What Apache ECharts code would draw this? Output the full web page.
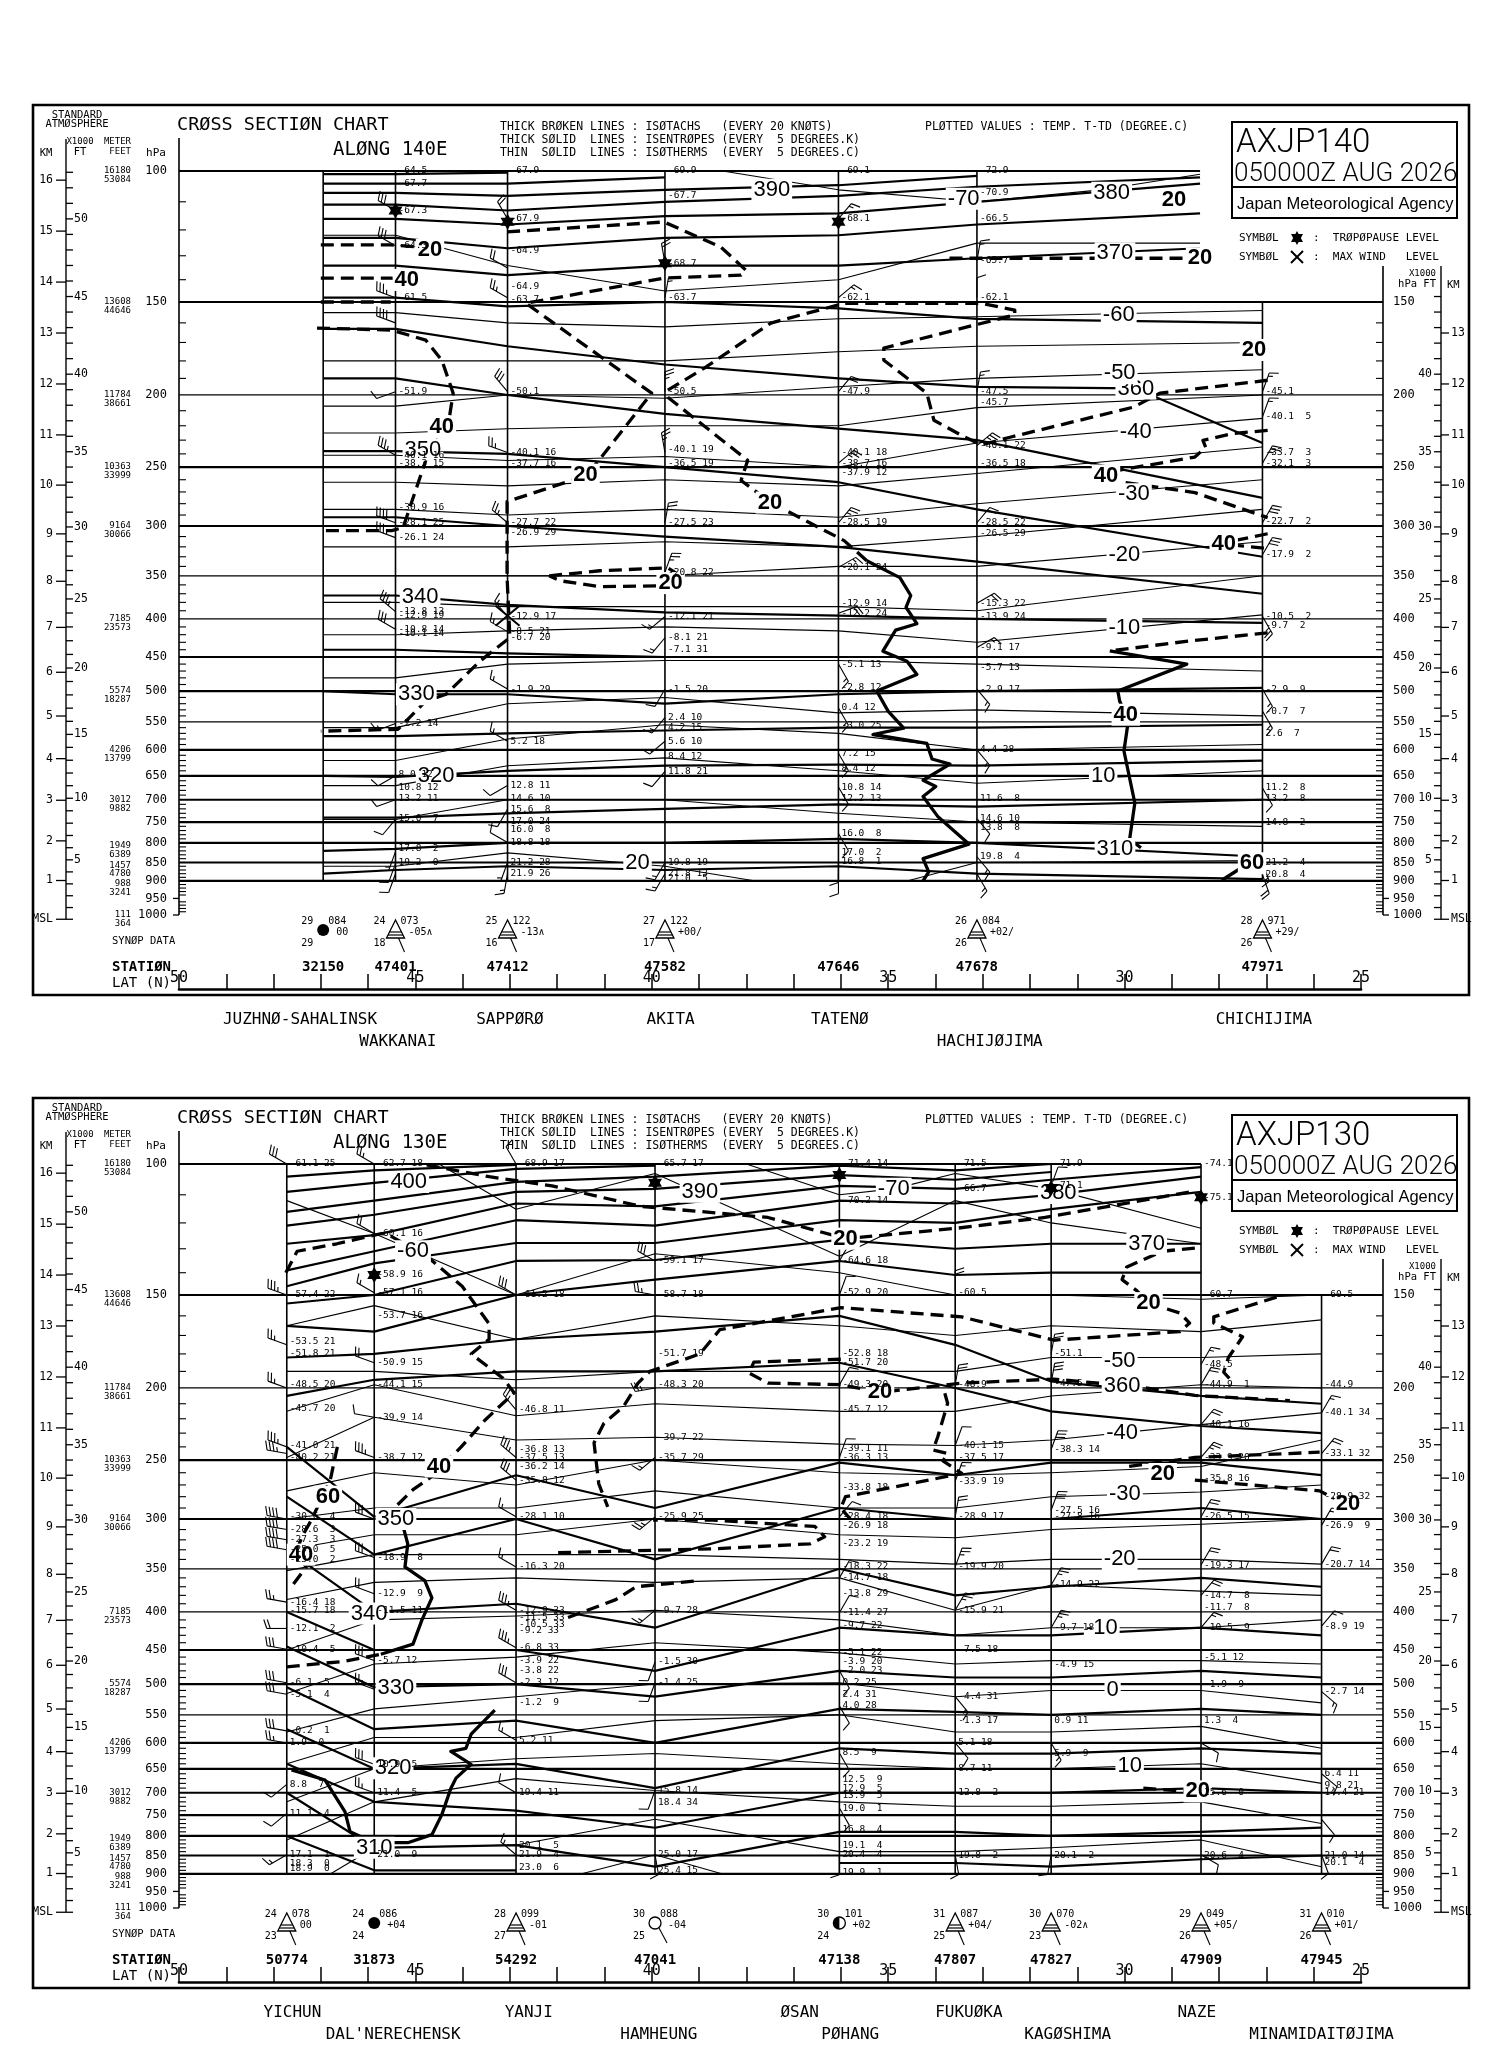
<!DOCTYPE html>
<html lang="en">
<head>
<meta charset="UTF-8">
<title>Cross Section Chart AXJP140 / AXJP130</title>
<script src="https://cdn.jsdelivr.net/npm/echarts@6/dist/echarts.min.js"></script>
<style>html,body{margin:0;padding:0;background:#fff}</style>
</head>
<body>
<div id="main" style="width:1512px;height:2059px;"></div>
<script>
var MONO = '"DejaVu Sans Mono", "Liberation Mono", monospace';
var SANS = '"Liberation Sans", Arial, sans-serif';

// pressure levels and standard atmosphere table
var levels = [100,150,200,250,300,350,400,450,500,550,600,650,700,750,800,850,900,950,1000];
var thickLevels = [100,150,250,300,450,500,600,650,700,750,800,850,900];
var stdLevels = [100,150,200,250,300,400,500,600,700,800,850,900,1000];
var stdMeter = ['16180','13608','11784','10363','9164','7185','5574','4206','3012','1949','1457','988','111'];
var stdFeet = ['53084','44646','38661','33999','30066','23573','18287','13799','9882','6389','4780','3241','364'];

// ---------- 140E section ----------
var lat140 = [46.95, 45.42, 43.05, 39.72, 36.05, 33.12, 27.08];
var id140 = ['32150','47401','47412','47582','47646','47678','47971'];
var top140 = [100,100,100,100,100,100,150];
var name140 = ['JUZHNØ-SAHALINSK','WAKKANAI','SAPPØRØ','AKITA','TATENØ','HACHIJØJIMA','CHICHIJIMA'];
var nameLat140 = [47.44, 45.37, 43.0, 39.6, 36.02, 32.85, 27.05];
var nameRow140 = [0,1,0,0,0,1,0];
var synop140 = [[0,'29','084','00','29','full'],[1,'24','073','-05∧','18','tri'],[2,'25','122','-13∧','16','tri'],
  [3,'27','122','+00/','17','tri'],[5,'26','084','+02/','26','tri'],[6,'28','971','+29/','26','tri']];

// isentropes (pressure at each station, S0..S6; last value < 150 sits at the upper end)
var isen140 = [
  [101,101,100.5],
  [104,104,104,102],
  [107,107,108,106,104.5,101.5],
  [111,111,113,110,108,105,102],
  [116,116,118,115,114,110,104],
  [123,123,127,123,122,118,114],
  [134,134,138,134,134,131,127],
  [148,148,152,150,153,158,160],
  [[46.95,163],[45.42,163],[43.05,172],[39.72,182],[36.05,190],[33.12,195],[29.76,196],[27.08,232]],
  [190,190,200,212,222,230,275],
  [238,238,240,250,262,285,330],
  [292,292,300,310,320,335,370],
  [372,372,383,392,396,400,405],
  [440,440,445,450,450,450,450],
  [500,505,505,520,505,500,495],
  [575,575,570,565,560,560,555],
  [650,652,640,630,628,630,620],
  [740,740,730,720,710,715,700],
  [820,815,800,800,790,800,835],
  [880,870,860,870,860,880,895]
];
// isotherms
var isot140 = [
  [[38.5,100],[36.05,106],[33.12,110],[30.5,106],[28.4,101]],
  [[46.95,122],[45.42,122],[43.05,134],[39.72,145],[36.05,140],[33.12,125],[28.4,125]],
  [155,155,160,162,158,157,154],
  [180,180,180,180,175,172,170],
  [207,207,200,202,195,190,185],
  [225,225,222,220,220,208,200],
  [241,241,245,242,250,232,215],
  [262,262,265,260,265,255,235],
  [285,285,290,285,292,280,260],
  [320,320,320,315,320,310,285],
  [350,350,350,350,340,340,315],
  [380,380,385,385,385,390,350],
  [420,420,415,410,415,430,395],
  [480,480,460,455,455,460,470],
  [560,560,520,510,535,530,540],
  [620,620,580,555,570,600,590],
  [670,670,630,615,640,665,640],
  [744,744,700,700,730,750,760],
  [[46.95,860],[45.42,860],[43.05,825],[39.72,860],[37.8,900]],
  [[34.6,900],[33.12,850],[27.08,845]]
];
// isotachs
var tach140 = [
  [[43.06,120.7],[41.5,119],[39.74,117.1],[38.54,126.5],[38.01,135.9],[38.11,138],[39.74,139.3],[42.66,150.6],[40.0,198.9],[41.37,256.5],[43.06,278.2],[43.06,351.7],[43.0,423.8],[43.63,455.6],[44.35,505],[44.78,515.9],[45.37,562.8],[47.0,566.2]],
  [[26.97,191.1],[29.25,198.9],[29.8,207.6],[32.4,227.8],[33.02,233.4],[33.38,227.8],[34.03,216.3],[34.18,198.9],[35.09,179.6],[35.09,173],[32.32,156.1],[32.32,153.8],[33.02,150.6],[35.93,150.6],[37.48,160.1],[38.85,183.4],[39.66,197.1],[39.66,201.4],[37.97,244.9],[38.11,260.6],[37.48,279],[35.93,313.9],[35.45,334]],
  [[47.0,125.7],[45.52,125.7],[44.95,126.5]],
  [[47.0,139.3],[45.52,139.3],[45.3,139.8]],
  [[47.0,150],[45.52,150]],
  [[47.08,162.6],[45.5,163.6],[44.78,168.8],[44.44,179.6],[44.2,198.9],[44.29,216.3],[44.78,244.9],[45.01,270.5],[45.26,301.5],[45.5,304.3],[47.0,304.3]],
  [[42.17,350],[41.1,344.6],[39.66,341.5],[39.4,350],[39.83,361],[41.1,362],[41.94,355.4],[42.17,350]],
  [[33.7,131],[28.4,131]],
  [[26.97,223.2],[27.71,225.3],[28.34,230.2],[28.28,235.2],[28.51,242.4],[30.14,252.6],[30.39,256.6],[30.14,261.4],[28.51,270.6],[26.97,292.3]],
  [[26.97,307.3],[27.98,316.9],[26.97,321.7]],
  [[26.97,417.6],[28.62,428.2],[30.31,441.7]]
];
var thick140 = [
  [[30.31,441.7],[28.68,460],[30.14,500],[30.1,516],[29.97,538],[29.93,555],[30.01,602],[29.78,707],[29.89,791],[29.65,812]],
  [[35.45,334],[34.75,352],[34.52,372],[34.62,386],[34.39,406],[34.84,414],[35.11,442],[34.6,456],[34.39,475],[35.24,500],[35.0,532],[34.67,561],[35.32,572],[34.18,588],[34.07,617],[33.69,627],[34.26,659],[33.99,672],[34.26,693],[33.95,737],[33.29,803],[34.26,840],[34.14,875],[34.26,900]],
  [[27.94,898],[27.45,858]]
];
var labIsen140 = [[37.46,106,'390'],[30.27,107,'380'],[30.2,129,'370'],[29.76,196,'360'],[44.84,237,'350'],[44.9,374,'340'],[44.98,505,'330'],[44.56,651,'320'],[30.2,815,'310']];
var labIsot140 = [[33.4,109,'-70'],[30.12,156,'-60'],[30.1,187,'-50'],[29.76,224,'-40'],[29.8,272,'-30'],[30.0,328,'-20'],[30.0,411,'-10'],[30.45,650,'10'],[40.3,850,'20']];
var labTach140 = [[44.69,127.7,'20'],[45.18,140.1,'40'],[44.44,220.8,'40'],[41.4,256,'20'],[37.5,279,'20'],[39.6,358,'20'],[28.95,109.4,'20'],[28.4,131,'20'],[27.26,174,'20'],[30.39,256.6,'40'],[27.9,317,'40'],[29.97,538,'40'],[27.3,852,'60']];
var tropo140 = [[45.42,113],[43.05,117],[39.72,133],[36.05,117]];
var maxw140 = [[43.05,396]];
// plotted values: temperature, T-Td
var vals140 = [
  [],
  [[100,'-64.5'],[104,'-67.7'],[113,'-67.3'],[126,'-64.3'],[148,'-61.5'],[198,'-51.9'],[241,'-40.1 16'],[247,'-38.3 15'],[283,'-30.9 16'],[297,'-28.1 25'],[311,'-26.1 24'],[391,'-13.8 13'],[396,'-12.9 19'],[413,'-10.8 14'],[418,'-10.1 14'],[553,'-2.2 14'],[648,'8.0 12'],[673,'10.8 12'],[697,'13.2 11'],[742,'15.0  7'],[813,'17.8  2'],[850,'19.2  0']],
  [[100,'-67.9'],[116,'-67.9'],[128,'-64.9'],[143,'-64.9'],[149,'-63.7'],[198,'-50.1'],[239,'-40.1 16'],[247,'-37.7 16'],[297,'-27.7 22'],[306,'-26.9 29'],[397,'-12.9 17'],[416,'-8.5 21'],[424,'-6.7 20'],[497,'-1.9 29'],[584,'5.2 18'],[670,'12.8 11'],[697,'14.6 10'],[721,'15.6  8'],[749,'17.0 24'],[767,'16.0  8'],[799,'18.8 18'],[850,'21.2 28'],[880,'21.9 26']],
  [[100,'-69.9'],[108,'-67.7'],[133,'-68.7'],[148,'-63.7'],[198,'-50.5'],[237,'-40.1 19'],[247,'-36.5 19'],[297,'-27.5 23'],[346,'-20.8 22'],[397,'-12.1 21'],[424,'-8.1 21'],[440,'-7.1 31'],[497,'-1.5 20'],[543,'2.4 10'],[560,'4.2 15'],[584,'5.6 10'],[612,'8.4 12'],[641,'11.8 21'],[850,'19.8 19'],[880,'21.8 13'],[893,'21.0  5']],
  [[100,'-69.1'],[116,'-68.1'],[148,'-62.1'],[198,'-47.9'],[239,'-40.1 18'],[247,'-38.7 16'],[254,'-37.9 12'],[297,'-28.5 19'],[341,'-20.1 24'],[381,'-12.9 14'],[393,'-12.2 24'],[460,'-5.1 13'],[495,'-2.8 12'],[527,'0.4 12'],[556,'-3.0 25'],[606,'7.2 15'],[635,'8.4 12'],[673,'10.8 14'],[697,'12.2 13'],[777,'16.0  8'],[823,'17.0  2'],[848,'16.8  1']],
  [[100,'-72.9'],[107,'-70.9'],[116,'-66.5'],[132,'-65.7'],[148,'-62.1'],[198,'-47.5'],[205,'-45.7'],[234,'-40.1 22'],[247,'-36.5 18'],[297,'-28.5 22'],[307,'-26.5 29'],[381,'-15.3 22'],[397,'-13.9 24'],[437,'-9.1 17'],[465,'-5.7 13'],[497,'-2.9 17'],[600,'4.4 28'],[697,'11.6  8'],[742,'14.6 10'],[764,'13.8  8'],[835,'19.8  4']],
  [[198,'-45.1'],[214,'-40.1  5'],[239,'-33.7  3'],[247,'-32.1  3'],[296,'-22.7  2'],[328,'-17.9  2'],[397,'-10.5  2'],[408,'-9.7  2'],[497,'-2.9  9'],[532,'-0.7  7'],[570,'2.6  7'],[675,'11.2  8'],[697,'13.2  8'],[752,'14.8  2'],[850,'21.2  4'],[883,'20.8  4']]
];
// winds: pressure, direction, knots
var barbs140 = [
  [],
  [[113,300,30],[126,300,30],[148,290,35],[160,290,40],[198,250,10],[241,300,35],[297,290,40],[311,290,35],[391,310,35],[413,300,30],[553,250,15],[650,240,10],[700,250,10],[744,220,10],[822,200,15],[853,200,10],[880,200,10]],
  [[116,330,20],[135,300,20],[148,300,25],[198,320,30],[239,290,25],[297,310,25],[397,320,15],[416,300,15],[497,300,15],[584,300,15],[670,240,10],[721,210,10],[799,300,10],[850,200,15],[880,190,15]],
  [[133,350,20],[148,10,15],[198,0,25],[239,350,25],[297,10,25],[346,20,25],[397,230,15],[424,220,15],[497,210,15],[543,220,15],[584,230,15],[641,220,10],[850,210,15],[880,210,15]],
  [[116,40,15],[148,50,15],[198,40,20],[247,50,25],[297,40,25],[341,60,15],[393,70,20],[460,150,15],[527,150,15],[606,150,15],[673,150,10],[777,150,10],[850,180,10],[880,180,10]],
  [[132,10,15],[148,0,10],[198,10,15],[234,50,25],[297,40,20],[381,60,20],[437,60,15],[497,140,15],[600,140,15],[742,140,10],[835,140,15],[880,150,15]],
  [[198,20,15],[214,20,15],[247,30,25],[297,30,30],[328,30,30],[397,150,25],[497,150,15],[532,150,15],[675,150,10],[850,160,15],[883,160,20]]
];

// ---------- 130E section ----------
var lat130 = [47.72, 45.87, 42.87, 39.93, 36.03, 33.58, 31.55, 28.38, 25.83];
var id130 = ['50774','31873','54292','47041','47138','47807','47827','47909','47945'];
var top130 = [100,100,100,100,100,100,100,100,150];
var name130 = ['YICHUN',"DAL'NERECHENSK",'YANJI','HAMHEUNG','ØSAN','PØHANG','FUKUØKA','KAGØSHIMA','NAZE','MINAMIDAITØJIMA'];
var nameLat130 = [47.6, 45.47, 42.6, 39.85, 36.87, 35.8, 33.29, 31.2, 28.47, 25.83];
var nameRow130 = [0,1,0,1,0,1,0,1,0,1];
var synop130 = [[0,'24','078','00','23','tri'],[1,'24','086','+04','24','full'],[2,'28','099','-01','27','tri'],
  [3,'30','088','-04','25','open'],[4,'30','101','+02','24','half'],[5,'31','087','+04/','25','tri'],
  [6,'30','070','-02∧','23','tri'],[7,'29','049','+05/','26','tri'],[8,'31','010','+01/','26','tri']];

var isen130 = [
  [104,102,100.3],
  [109,106,101.5,100.5],
  [116,112,105.7,104,100.5,102,100],
  [121,117,109,108,103.5,105,102.5],
  [128,124.6,113,114,107,108,105,101],
  [139,131,119,121,112,113,110,104],
  [146,136,127.7,127.7,119,120,115,109],
  [154,150,135,134.6,126.5,130,128,128],
  [165,168,150,143,135,141,140,140],
  [182,180,172,168,160,175,196,205,210],
  [205,195,190,190,185,200,215,225,230],
  [240,298,262,290,252,262,252,252,262],
  [280,335,300,340,290,300,300,290,300],
  [330,400,390,420,350,380,370,360,370],
  [400,450,450,480,420,430,430,420,430],
  [445,505,500,520,480,490,490,480,490],
  [505,575,560,600,540,545,550,540,550],
  [575,650,640,690,610,620,620,610,620],
  [640,720,740,780,700,700,700,690,700],
  [700,830,823,880,790,790,800,790,780],
  [800,890,890],
  [[36.03,870],[33.58,870],[31.55,880],[28.38,860],[25.83,850]]
];
var isot130 = [
  [[38,100],[36.03,110],[34.88,108],[33.58,103],[31.55,108],[28.38,122]],
  [[44.5,100],[42.87,115],[39.93,103],[36.03,133],[33.58,112],[31.55,120],[28.38,128]],
  [112,124,150,132,140,150,150,152,150],
  [165,155,172,160,165,170,165,168,162],
  [190,190,195,190,190,190,182,182,180],
  [215,198,218,210,215,215,205,198,200],
  [248,219,235,233,238,239,235,224,216],
  [275,260,270,250,260,262,260,255,235],
  [300,290,290,275,290,290,280,276,270],
  [330,315,315,300,315,318,310,305,300],
  [352,335,335,335,340,345,340,340,345],
  [385,365,360,365,360,398,368,375,380],
  [450,410,405,398,410,430,420,420,410],
  [515,470,460,440,454,470,465,465,470],
  [580,540,520,500,498,520,510,510,530],
  [640,590,590,560,550,580,580,570,610],
  [720,650,630,620,640,650,650,640,680],
  [810,720,670,695,720,730,730,720,770],
  [[46.8,900],[45.87,830],[42.87,823],[39.93,760],[36.03,840],[33.58,840],[31.55,830],[28.38,810],[25.83,880]],
  [[41.5,900],[39.93,848],[38.5,900]]
];
var tach130 = [
  [[47.74,140],[47.5,131],[46.66,128],[45.71,124],[45.52,125],[44.76,133],[44.01,146],[43.44,164],[43.44,172],[43.82,180],[43.15,194],[42.91,203],[43.53,221],[44.03,240],[44.65,263],[45.05,274],[45.47,291]],
  [[44.76,100.3],[43.44,104],[42.11,107],[40.23,114],[37.54,118],[35.9,126],[33.55,122],[31.68,118],[28.6,109]],
  [[28.51,129.7],[29.2,131],[29.95,137.5],[30.05,143],[29.74,148],[29.49,153.8],[28.83,158.6],[28.62,163.6],[28.83,168],[31.49,172.5],[33.44,160.5],[36.0,156],[38.56,167],[38.98,180],[40.04,190],[40.29,197],[40.6,212],[41.01,223],[41.22,237],[41.12,269],[40.93,289]],
  [[36.0,183],[37.84,184.6],[37.94,191],[37.54,197],[36.0,198],[35.17,202.7],[33.44,197],[31.49,194.6],[29.63,199.5],[28.51,204.7],[26.5,208]],
  [[33.8,203.3],[33.74,209.7],[33.95,232.8],[34.05,242.4],[33.74,244.9],[33.84,250.6],[33.44,260.6],[35.9,280],[36.0,290],[35.8,300]],
  [[26.78,151],[28.11,160.5],[28.11,163.6],[27.5,170.7],[27.8,182],[27.9,190.5],[27.69,197]],
  [[41.98,333],[38.7,329],[36.65,324],[36.34,317],[36.55,307],[38.7,301],[39.97,301]],
  [[46.65,240],[46.8,266],[47.0,283],[47.2,301],[47.4,317],[47.52,333],[47.31,348],[47.62,370]],
  [[47.72,474],[46.49,466],[45.73,456]],
  [[41.77,407],[40.76,385],[40.33,370],[39.0,363]],
  [[29.9,255],[28.51,248],[25.87,244]],
  [[28.51,266],[25.87,275],[25.4,285]],
  [[29.6,690],[28.7,697]]
];
var thick130 = [
  [[43.32,542],[43.82,584],[43.93,610],[44.25,616],[43.82,641],[44.14,669],[44.25,691],[44.44,749],[44.65,797],[45.16,817],[46.09,817]],
  [[45.26,307],[45.16,324],[45.22,348],[44.8,363],[44.65,383],[44.86,410],[45.05,442],[45.73,456]],
  [[47.62,652],[46.91,673],[46.49,742],[46.38,790],[45.87,817]]
];
var labIsen130 = [[45.14,105.7,'400'],[38.98,109,'390'],[31.4,109.4,'380'],[29.53,128,'370'],[30.05,199,'360'],[45.41,300,'350'],[45.98,402,'340'],[45.41,506,'330'],[45.47,649,'320'],[45.87,830,'310']];
var labIsot130 = [[34.88,108,'-70'],[45.05,131,'-60'],[30.1,184,'-50'],[30.05,230,'-40'],[29.99,278,'-30'],[30.1,340,'-20'],[30.48,420,'-10'],[30.25,510,'0'],[29.89,645,'10']];
var labTach130 = [[35.9,126,'20'],[29.49,153.8,'20'],[35.17,202.7,'20'],[44.5,255,'40'],[46.85,280,'60'],[47.42,335,'40'],[29.19,261,'20'],[25.27,286,'20'],[28.45,697,'20']];
var tropo130 = [[45.87,141],[39.93,106],[36.03,103.5],[31.55,107.7],[28.38,110.8]];
var maxw130 = [];
var vals130 = [
  [[100,'-61.1 25'],[150,'-57.4 22'],[173,'-53.5 21'],[180,'-51.8 21'],[198,'-48.5 20'],[213,'-45.7 20'],[239,'-41.0 21'],[248,'-40.2 21'],[298,'-30.6  4'],[310,'-28.6  3'],[320,'-27.3  3'],[330,'-25.0  5'],[340,'-23.0  2'],[388,'-16.4 18'],[398,'-15.7 18'],[421,'-12.1  2'],[449,'-10.4  5'],[498,'-6.1  5'],[516,'-5.1  4'],[578,'-0.2  1'],[600,'1.9  0'],[682,'8.8  7'],[746,'11.1  4'],[848,'17.1  1'],[871,'18.3  0'],[885,'18.9  0']],
  [[100,'-62.7 18'],[124,'-60.1 16'],[141,'-58.9 16'],[149,'-57.1 16'],[160,'-53.7 16'],[185,'-50.9 15'],[198,'-44.1 15'],[219,'-39.9 14'],[248,'-38.7 12'],[338,'-18.9  8'],[378,'-12.9  9'],[398,'-11.5 11'],[465,'-5.7 12'],[641,'10.9  5'],[700,'11.4  5'],[848,'21.0  9']],
  [[100,'-68.9 17'],[150,'-61.2 18'],[214,'-46.8 11'],[242,'-36.8 13'],[248,'-37.5 13'],[255,'-36.2 14'],[266,'-35.8 12'],[298,'-28.1 10'],[348,'-16.3 20'],[398,'-12.9 33'],[407,'-11.5 33'],[416,'-10.5 33'],[424,'-9.2 33'],[447,'-6.8 33'],[465,'-3.9 22'],[480,'-3.8 22'],[498,'-2.3 12'],[530,'-1.2  9'],[595,'5.2 11'],[700,'19.4 11'],[823,'20.1  5'],[848,'21.9  4'],[883,'23.0  6']],
  [[100,'-65.7 17'],[135,'-59.1 17'],[150,'-58.7 18'],[180,'-51.7 19'],[198,'-48.3 20'],[233,'-39.7 22'],[248,'-35.7 29'],[298,'-25.9 25'],[398,'-9.7 28'],[467,'-1.5 30'],[498,'-1.4 25'],[695,'15.8 14'],[722,'18.4 34'],[848,'25.0 17'],[890,'25.4 15']],
  [[100,'-71.4 14'],[112,'-70.2 14'],[135,'-64.6 18'],[149,'-52.9 20'],[180,'-52.8 18'],[185,'-51.7 20'],[198,'-49.3 20'],[214,'-45.7 12'],[241,'-39.1 11'],[248,'-36.3 13'],[272,'-33.8 18'],[298,'-28.4 18'],[306,'-26.9 18'],[324,'-23.2 19'],[348,'-18.3 22'],[360,'-14.7 18'],[378,'-13.8 29'],[401,'-11.4 27'],[417,'-9.7 22'],[454,'-5.1 22'],[467,'-3.9 20'],[480,'-2.0 23'],[498,'0.2 25'],[516,'2.4 31'],[535,'4.0 28'],[619,'8.5  9'],[671,'12.5  9'],[690,'12.9  5'],[705,'13.9  5'],[734,'19.0  1'],[784,'16.8  4'],[823,'19.1  4'],[848,'20.4  4'],[895,'19.9  1']],
  [[100,'-71.5'],[108,'-66.7'],[149,'-60.5'],[198,'-48.9'],[239,'-40.1 15'],[248,'-37.5 17'],[267,'-33.9 19'],[298,'-28.9 17'],[348,'-19.9 20'],[398,'-15.9 21'],[450,'-7.5 18'],[520,'-4.4 31'],[560,'-1.3 17'],[600,'5.1 18'],[650,'8.7 11'],[700,'12.8  2'],[850,'19.8  2']],
  [[100,'-71.9'],[107,'-71.1'],[180,'-51.1'],[197,'-47.5'],[242,'-38.3 14'],[292,'-27.5 16'],[298,'-27.8 16'],[368,'-14.9 22'],[420,'-9.7 18'],[470,'-4.9 15'],[560,'0.9 11'],[620,'5.9  9'],[850,'20.1  2']],
  [[100,'-74.1'],[111,'-75.1'],[150,'-60.7'],[186,'-48.5'],[198,'-44.9  1'],[224,'-40.1 16'],[248,'-33.9 20'],[265,'-35.8 16'],[298,'-26.5 15'],[346,'-19.3 17'],[380,'-14.7  8'],[395,'-11.7  8'],[420,'-10.5  9'],[460,'-5.1 12'],[500,'-1.9  9'],[560,'1.3  4'],[700,'15.6  0'],[850,'20.6  4']],
  [[150,'-60.5'],[198,'-44.9'],[216,'-40.1 34'],[245,'-33.1 32'],[280,'-28.9 32'],[306,'-26.9  9'],[345,'-20.7 14'],[418,'-8.9 19'],[512,'-2.7 14'],[660,'6.4 11'],[685,'9.8 21'],[700,'14.4 21'],[850,'21.0 14'],[870,'20.1  4']]
];
var barbs130 = [
  [[100,300,30],[150,290,35],[175,290,25],[200,290,25],[240,290,35],[245,280,35],[300,280,40],[310,280,40],[320,280,40],[330,280,40],[388,280,25],[421,270,20],[449,280,30],[498,280,30],[516,280,30],[578,280,30],[600,280,25],[682,230,10],[746,230,10],[848,240,15]],
  [[100,300,25],[124,300,20],[149,300,15],[185,290,20],[219,280,10],[248,290,35],[300,290,30],[338,290,30],[378,290,20],[465,290,30],[508,290,25],[641,290,30],[700,290,25],[848,290,25]],
  [[100,330,10],[150,300,30],[214,320,25],[248,310,35],[266,310,30],[298,300,15],[348,300,15],[398,300,35],[447,300,35],[498,300,30],[595,300,15],[700,300,10],[848,310,15]],
  [[135,300,30],[150,280,25],[200,260,25],[248,230,15],[298,230,25],[398,230,15],[467,200,10],[498,200,10],[695,200,10],[848,170,10]],
  [[135,30,10],[150,20,10],[198,30,10],[248,20,10],[298,40,10],[360,30,10],[401,30,10],[480,150,10],[535,150,10],[619,150,10],[734,150,10],[848,180,10]],
  [[148,0,20],[198,10,20],[239,20,10],[267,20,15],[298,10,20],[348,20,25],[398,30,25],[520,140,15],[600,140,10],[848,170,10]],
  [[107,20,10],[180,10,25],[197,10,30],[242,20,30],[292,20,30],[368,30,25],[420,30,25],[600,150,15],[848,190,10]],
  [[186,30,15],[198,30,20],[224,40,20],[248,40,25],[298,30,20],[346,30,20],[380,40,20],[420,40,15],[600,120,10],[848,120,10]],
  [[216,30,15],[245,40,20],[306,30,20],[345,30,20],[418,40,15],[512,130,15],[660,130,10],[760,140,10],[848,160,10]]
];

// ---------- helpers ----------
function stdP(h) {
  return h <= 11000 ? 1013.25 * Math.pow(1 - 2.25577e-5 * h, 5.25588) : 226.32 * Math.exp(-(h - 11000) / 6341.62);
}
function L(x1, y1, x2, y2, w) {
  return {type: 'line', shape: {x1: x1, y1: y1, x2: x2, y2: y2}, style: {stroke: '#000', lineWidth: w || 1}};
}
function T(s, x, y, font, align, bg) {
  var st = {text: s, x: x, y: y, font: font, fill: '#000', align: align || 'left', verticalAlign: 'middle',
    textAlign: align || 'left', textVerticalAlign: 'middle'};
  if (bg) { st.backgroundColor = '#fff'; st.padding = [0, 2]; }
  return {type: 'text', style: st};
}
function toPts(line, lats, upEnd) {
  if (Array.isArray(line[0])) return line;
  var pts = [];
  line.forEach(function (p, i) {
    if (p == null) return;
    var lat = (upEnd && i === lats.length - 1 && p < 150) ? upEnd : lats[i];
    pts.push([lat, p]);
  });
  return pts;
}
function barb(x, y, dir, spd) {
  var a = dir * Math.PI / 180, dx = Math.sin(a), dy = -Math.cos(a);
  var px = -dy, py = dx, len = 20, ch = [];
  var tx = x + dx * len, ty = y + dy * len, pos = 0, s = spd;
  ch.push(L(x, y, tx, ty, 1.1));
  while (s >= 50) {
    ch.push({type: 'polygon', shape: {points: [[tx - dx * pos, ty - dy * pos], [tx - dx * pos + px * 9, ty - dy * pos + py * 9], [tx - dx * (pos + 5), ty - dy * (pos + 5)]]}, style: {fill: '#000'}});
    pos += 6; s -= 50;
  }
  while (s >= 10) {
    var bx = tx - dx * pos, by = ty - dy * pos;
    ch.push(L(bx, by, bx + px * 9 + dx * 3, by + py * 9 + dy * 3, 1.1));
    pos += 3.5; s -= 10;
  }
  if (s >= 5) {
    var cx = tx - dx * pos, cy = ty - dy * pos;
    ch.push(L(cx, cy, cx + px * 4.5 + dx * 1.5, cy + py * 4.5 + dy * 1.5, 1.1));
  }
  return ch;
}

var panels = [
  {off: 0, along: 'ALØNG 140E', code: 'AXJP140', lats: lat140, ids: id140, tops: top140, upEnd: 28.4,
   names: name140, nameLat: nameLat140, nameRow: nameRow140, synop: synop140, vals: vals140, barbs: barbs140,
   isen: isen140, isot: isot140, tach: tach140, thick: thick140,
   labIsen: labIsen140, labIsot: labIsot140, labTach: labTach140, tropo: tropo140, maxw: maxw140},
  {off: 993, along: 'ALØNG 130E', code: 'AXJP130', lats: lat130, ids: id130, tops: top130, upEnd: 28.38,
   names: name130, nameLat: nameLat130, nameRow: nameRow130, synop: synop130, vals: vals130, barbs: barbs130,
   isen: isen130, isot: isot130, tach: tach130, thick: thick130,
   labIsen: labIsen130, labIsot: labIsot130, labTach: labTach130, tropo: tropo130, maxw: maxw130}
];

var grids = [], xAxes = [], yAxes = [], series = [], graphics = [];

function custom(gi, data, render, z) {
  return {type: 'custom', xAxisIndex: gi, yAxisIndex: gi, data: data, renderItem: render,
    silent: true, animation: false, clip: false, z: z || 4};
}
function lineS(gi, pts, w, dash, z) {
  return {type: 'line', xAxisIndex: gi, yAxisIndex: gi, data: pts, symbol: 'none', showSymbol: false,
    silent: true, animation: false, z: z || 2,
    lineStyle: {color: '#000', width: w, type: dash ? [13, 7] : 'solid', cap: 'butt', join: 'round'}};
}
function labelS(gi, arr, font, bg) {
  return custom(gi, arr.map(function (a) { return [a[0], a[1]]; }), function (params, api) {
    var a = arr[params.dataIndex], pt = api.coord([a[0], a[1]]);
    return T(a[2], pt[0], pt[1], font, 'center', bg);
  }, 7);
}
function gtext(s, x, y, font, align) {
  return {type: 'text', x: x, y: y, silent: true, z: 10,
    style: {text: s, font: font, fill: '#000', align: align || 'left', verticalAlign: 'middle',
      textAlign: align || 'left', textVerticalAlign: 'middle'}};
}
function gline(x1, y1, x2, y2, w) {
  return {type: 'line', silent: true, z: 10, shape: {x1: x1, y1: y1, x2: x2, y2: y2}, style: {stroke: '#000', lineWidth: w}};
}

panels.forEach(function (P, pi) {
  var off = P.off, gi = pi * 2, gl = pi * 2 + 1;
  grids.push({left: 179, width: 1204, top: 171 + off, height: 744, show: false});
  grids.push({left: 179, width: 1182, top: 171 + off, height: 818, show: false});
  xAxes.push({gridIndex: gi, type: 'value', min: 24.53, max: 50, inverse: true, show: false});
  yAxes.push({gridIndex: gi, type: 'log', logBase: 10, min: 100, max: 1000, inverse: true, show: false});
  xAxes.push({gridIndex: gl, type: 'value', min: 25, max: 50, inverse: true, interval: 5, position: 'bottom',
    axisLine: {show: true, lineStyle: {color: '#000', width: 2.6}},
    axisTick: {show: true, inside: true, length: 15, lineStyle: {color: '#000', width: 1.5}},
    minorTick: {show: true, splitNumber: 5, length: 15, lineStyle: {color: '#000', width: 1.5}},
    axisLabel: {inside: true, margin: 3, color: '#000', fontFamily: MONO, fontSize: 15},
    splitLine: {show: false}});
  yAxes.push({gridIndex: gl, type: 'value', min: 0, max: 1, show: false});

  // pressure / height scales and level lines
  series.push(custom(gi, [[40, 500]], function (params, api) {
    var ch = [];
    var xL = api.coord([50, 500])[0], xR = api.coord([24.53, 500])[0];
    var yv = function (p) { return api.coord([40, p])[1]; };
    var f11 = '11.5px ' + MONO, f9 = '9px ' + MONO, f12 = '12px ' + MONO;
    ch.push(L(xL, 138 + off, xL, yv(1000), 1.6));
    ch.push(L(xR, 266 + off, xR, yv(1000), 1.6));
    for (var p = 110; p < 1000; p += 10) {
      if (p % 50 === 0) continue;
      var y = yv(p);
      ch.push(L(xL, y, xL + 7, y, 1.1));
      if (p > 150) ch.push(L(xR - 7, y, xR, y, 1.1));
    }
    levels.forEach(function (lv) {
      var yy = yv(lv);
      if (lv <= 900) {
        var xe = lv < 150 ? api.coord([P.upEnd, lv])[0] : xR;
        ch.push(L(xL, yy, xe, yy, thickLevels.indexOf(lv) >= 0 ? 2.2 : 1.3));
      } else {
        ch.push(L(xL - 6, yy, xL, yy, 1.3));
        ch.push(L(xR, yy, xR + 6, yy, 1.3));
      }
      ch.push(T(String(lv), xL - 12, yy, f12, 'right'));
      if (lv >= 150) ch.push(T(String(lv), xR + 10, yy, f12, 'left'));
    });
    stdLevels.forEach(function (lv, i) {
      var ym = yv(lv) + (lv >= 800 && lv <= 900 ? 3 : 0);
      ch.push(T(stdMeter[i], 131, ym, f9, 'right'));
      ch.push(T(stdFeet[i], 131, ym + 8.5, f9, 'right'));
    });
    var xK = 66, xK2 = 1441, km, ft, yk;
    ch.push(L(xK, 139 + off, xK, yv(stdP(0)), 1.4));
    ch.push(L(xK2, 266 + off, xK2, yv(stdP(0)), 1.4));
    for (km = 0; km <= 16; km++) {
      yk = yv(stdP(km * 1000));
      ch.push(L(xK - 10, yk, xK, yk, 1.3));
      ch.push(T(km === 0 ? 'MSL' : String(km), xK - 13, yk, f11, 'right'));
      if (km <= 13) {
        ch.push(L(xK2, yk, xK2 + 8, yk, 1.3));
        ch.push(T(km === 0 ? 'MSL' : String(km), xK2 + 10, yk, f11, 'left'));
      }
    }
    for (ft = 0; ft <= 53; ft++) {
      yk = yv(stdP(ft * 304.8));
      ch.push(L(xK, yk, xK + 7, yk, 1.3));
      if (ft > 0 && ft % 5 === 0) ch.push(T(String(ft), xK + 8, yk, f11, 'left'));
      if (ft <= 45) {
        ch.push(L(xK2 - 7, yk, xK2, yk, 1.3));
        if (ft > 0 && ft % 5 === 0 && ft <= 40) ch.push(T(String(ft), xK2 - 9, yk, f11, 'right'));
      }
    }
    return {type: 'group', children: ch};
  }, 3));

  // contour lines
  P.isot.forEach(function (ln) { series.push(lineS(gi, toPts(ln, P.lats, pi === 0 ? P.upEnd : null), 1.1, false, 2)); });
  P.isen.forEach(function (ln) { series.push(lineS(gi, toPts(ln, P.lats, pi === 0 ? P.upEnd : null), 2.2, false, 2)); });
  P.tach.forEach(function (ln) { series.push(lineS(gi, ln, 3.3, true, 3)); });
  P.thick.forEach(function (ln) { series.push(lineS(gi, ln, 3.3, false, 3)); });

  // station verticals, numbers, synop models
  series.push(custom(gi, P.lats.map(function (l) { return [l, 500]; }), function (params, api) {
    var i = params.dataIndex, lat = P.lats[i];
    var x = api.coord([lat, 500])[0];
    var ch = [L(x, api.coord([lat, P.tops[i]])[1], x, api.coord([lat, 900])[1], 1.6)];
    ch.push(T(P.ids[i], x, 967 + off, 'bold 14px ' + MONO, 'center'));
    var s = P.synop.filter(function (r) { return r[0] === i; })[0];
    if (s) {
      var y0 = 920 + off, f = '10px ' + MONO, sy = y0 + 10;
      ch.push(T(s[1], x - 10, y0 + 1, f, 'right'));
      ch.push(T(s[2], x + 5, y0 + 1, f, 'left'));
      ch.push(T(s[3], x + 13, y0 + 12, f, 'left'));
      ch.push(T(s[4], x - 10, y0 + 23, f, 'right'));
      if (s[5] === 'tri') {
        ch.push({type: 'polygon', shape: {points: [[x, sy - 10], [x - 9, sy + 8], [x + 9, sy + 8]]}, style: {fill: 'none', stroke: '#000', lineWidth: 1.3}});
        ch.push(L(x - 6, sy + 2, x + 6, sy + 2, 1.2));
        ch.push(L(x - 7.5, sy + 5, x + 7.5, sy + 5, 1.2));
        ch.push(L(x + 3, sy + 8, x + 9, sy + 22, 1.1));
      } else if (s[5] === 'full') {
        ch.push({type: 'circle', shape: {cx: x, cy: sy, r: 6}, style: {fill: '#000'}});
      } else if (s[5] === 'open') {
        ch.push({type: 'circle', shape: {cx: x, cy: sy, r: 6}, style: {fill: 'none', stroke: '#000', lineWidth: 1.3}});
        ch.push(L(x + 4, sy + 5, x + 12, sy + 20, 1.1));
      } else {
        ch.push({type: 'circle', shape: {cx: x, cy: sy, r: 6}, style: {fill: 'none', stroke: '#000', lineWidth: 1.3}});
        ch.push({type: 'sector', shape: {cx: x, cy: sy, r: 6, startAngle: Math.PI / 2, endAngle: Math.PI * 1.5}, style: {fill: '#000'}});
      }
    }
    return {type: 'group', children: ch};
  }, 4));

  // station names under the frame
  series.push(custom(gi, P.nameLat.map(function (l) { return [l, 500]; }), function (params, api) {
    var i = params.dataIndex, x = api.coord([P.nameLat[i], 500])[0];
    return T(P.names[i], x, (P.nameRow[i] ? 1042 : 1020) + off, '16px ' + MONO, 'center');
  }, 4));

  // wind barbs
  var bdata = [];
  P.barbs.forEach(function (list, i) { list.forEach(function (b) { bdata.push([P.lats[i], b[0], b[1], b[2]]); }); });
  series.push(custom(gi, bdata, function (params, api) {
    var pt = api.coord([api.value(0), api.value(1)]);
    return {type: 'group', children: barb(pt[0], pt[1], api.value(2), api.value(3))};
  }, 4));

  // plotted values
  var vdata = [], vtext = [];
  P.vals.forEach(function (list, i) { list.forEach(function (v) { vdata.push([P.lats[i], v[0]]); vtext.push(v[1]); }); });
  series.push(custom(gi, vdata, function (params, api) {
    var pt = api.coord([api.value(0), api.value(1)]);
    return T(vtext[params.dataIndex], pt[0] + 3, pt[1], '9.5px ' + MONO, 'left');
  }, 8));

  // tropopause and max wind symbols
  series.push(custom(gi, P.tropo, function (params, api) {
    var pt = api.coord([api.value(0), api.value(1)]), x = pt[0], y = pt[1];
    return {type: 'group', children: [
      {type: 'polygon', shape: {points: [[x, y - 8], [x + 7, y + 4], [x - 7, y + 4]]}, style: {fill: '#000'}},
      {type: 'polygon', shape: {points: [[x, y + 8], [x + 7, y - 4], [x - 7, y - 4]]}, style: {fill: '#000'}}]};
  }, 8));
  series.push(custom(gi, P.maxw, function (params, api) {
    var pt = api.coord([api.value(0), api.value(1)]), x = pt[0], y = pt[1];
    return {type: 'group', children: [L(x - 12, y - 10, x + 12, y + 10, 2), L(x - 12, y + 10, x + 12, y - 10, 2)]};
  }, 8));

  // contour labels
  series.push(labelS(gi, P.labIsen, '22px ' + SANS, true));
  series.push(labelS(gi, P.labIsot, '22px ' + SANS, true));
  series.push(labelS(gi, P.labTach, 'bold 22px ' + SANS, true));

  // static frame and header texts
  graphics.push({type: 'rect', silent: true, z: 10, shape: {x: 33, y: 105 + off, width: 1436, height: 890}, style: {fill: 'none', stroke: '#000', lineWidth: 2.6}});
  graphics.push({type: 'rect', silent: true, z: 10, shape: {x: 1232, y: 122 + off, width: 225, height: 96}, style: {fill: 'none', stroke: '#000', lineWidth: 2}});
  graphics.push(gline(1232, 187 + off, 1457, 187 + off, 2));
  graphics.push(gtext(P.code, 1236, 144 + off, '300 33px Roboto, ' + SANS));
  graphics.push(gtext('050000Z AUG 2026', 1234, 174 + off, '300 26px Roboto, ' + SANS));
  graphics.push(gtext('Japan Meteorological Agency', 1237, 204 + off, '16.5px ' + SANS));
  graphics.push(gtext('CRØSS SECTIØN CHART', 177, 125 + off, '18.5px ' + MONO));
  graphics.push(gtext(P.along, 333, 150 + off, '19px ' + MONO));
  graphics.push(gtext('THICK BRØKEN LINES : ISØTACHS   (EVERY 20 KNØTS)', 500, 127 + off, '11.5px ' + MONO));
  graphics.push(gtext('THICK SØLID  LINES : ISENTRØPES (EVERY  5 DEGREES.K)', 500, 140 + off, '11.5px ' + MONO));
  graphics.push(gtext('THIN  SØLID  LINES : ISØTHERMS  (EVERY  5 DEGREES.C)', 500, 153 + off, '11.5px ' + MONO));
  graphics.push(gtext('PLØTTED VALUES : TEMP. T-TD (DEGREE.C)', 925, 127 + off, '11.5px ' + MONO));
  graphics.push(gtext('SYMBØL', 1239, 238 + off, '11px ' + MONO));
  graphics.push(gtext(':  TRØPØPAUSE LEVEL', 1313, 238 + off, '11px ' + MONO));
  graphics.push({type: 'polygon', silent: true, z: 10, shape: {points: [[1297, 231 + off], [1303, 242 + off], [1291, 242 + off]]}, style: {fill: '#000'}});
  graphics.push({type: 'polygon', silent: true, z: 10, shape: {points: [[1297, 245 + off], [1303, 234 + off], [1291, 234 + off]]}, style: {fill: '#000'}});
  graphics.push(gtext('SYMBØL', 1239, 257 + off, '11px ' + MONO));
  graphics.push(gline(1291, 251 + off, 1303, 263 + off, 2));
  graphics.push(gline(1291, 263 + off, 1303, 251 + off, 2));
  graphics.push(gtext(':  MAX WIND   LEVEL', 1313, 257 + off, '11px ' + MONO));
  graphics.push(gtext('STANDARD', 77, 115 + off, '10.5px ' + MONO, 'center'));
  graphics.push(gtext('ATMØSPHERE', 77, 124 + off, '10.5px ' + MONO, 'center'));
  graphics.push(gtext('KM', 46, 153 + off, '10.5px ' + MONO, 'center'));
  graphics.push(gtext('X1000', 80, 142 + off, '9px ' + MONO, 'center'));
  graphics.push(gtext('FT', 80, 152 + off, '10.5px ' + MONO, 'center'));
  graphics.push(gtext('METER', 131, 142 + off, '9px ' + MONO, 'right'));
  graphics.push(gtext('FEET', 131, 152 + off, '9px ' + MONO, 'right'));
  graphics.push(gtext('hPa', 156, 153 + off, '11px ' + MONO, 'center'));
  graphics.push(gtext('X1000', 1436, 274 + off, '9px ' + MONO, 'right'));
  graphics.push(gtext('hPa FT', 1436, 284 + off, '10.5px ' + MONO, 'right'));
  graphics.push(gtext('KM', 1447, 285 + off, '10.5px ' + MONO, 'left'));
  graphics.push(gtext('SYNØP DATA', 112, 941 + off, '10.5px ' + MONO));
  graphics.push(gtext('STATIØN', 112, 967 + off, 'bold 14px ' + MONO));
  graphics.push(gtext('LAT (N)', 112, 983 + off, '14px ' + MONO));
});

var chart = echarts.init(document.getElementById('main'));
chart.setOption({
  animation: false,
  backgroundColor: '#fff',
  grid: grids,
  xAxis: xAxes,
  yAxis: yAxes,
  series: series,
  graphic: graphics
});
</script>
</body>
</html>
